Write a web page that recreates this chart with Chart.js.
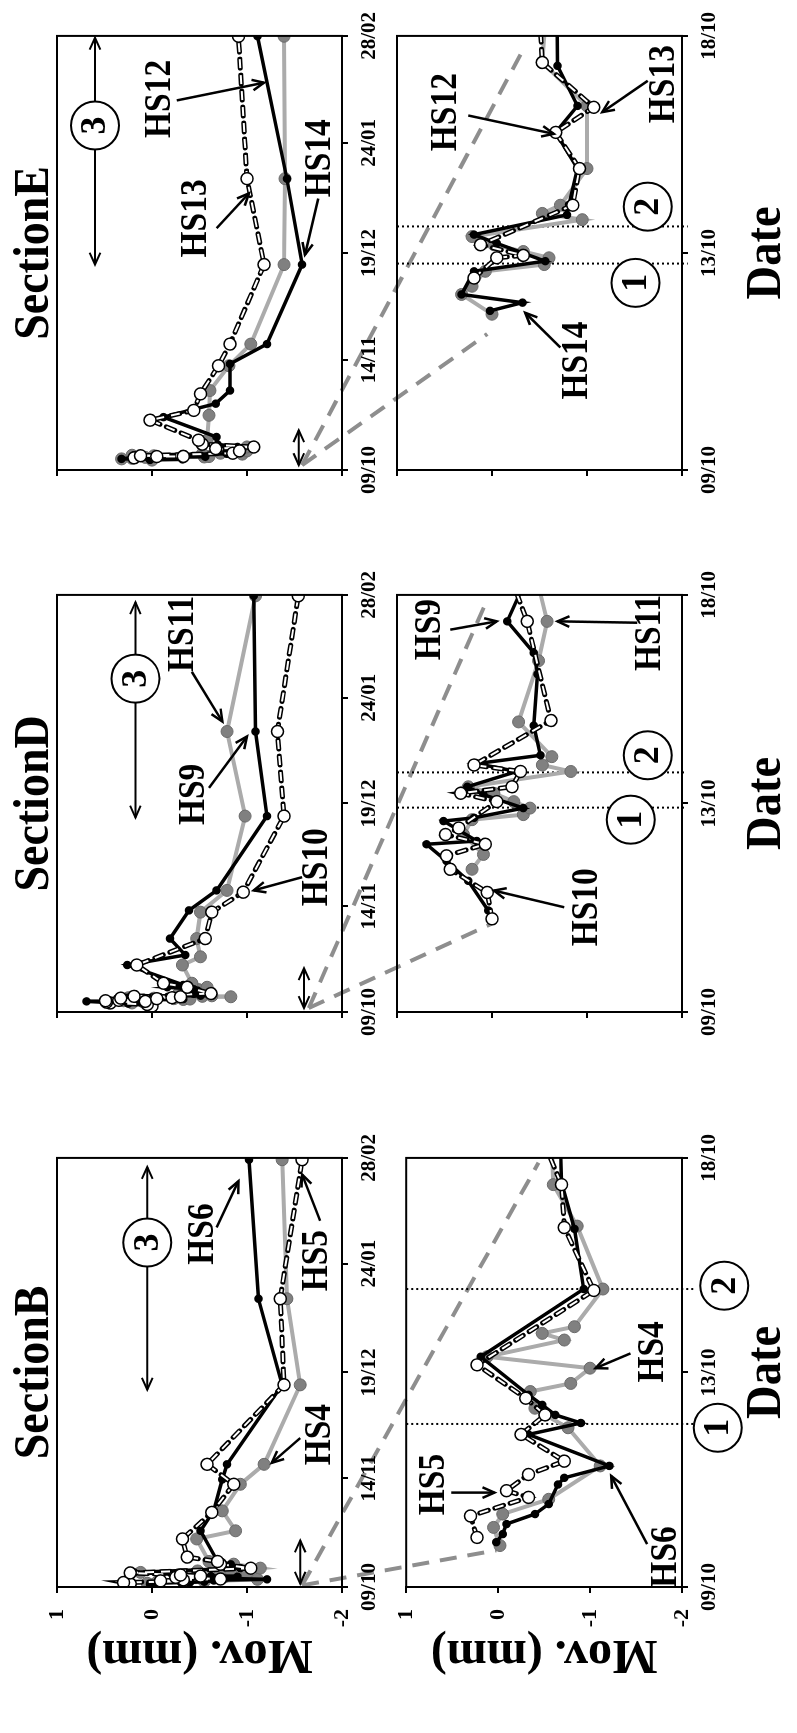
<!DOCTYPE html>
<html>
<head>
<meta charset="utf-8">
<script src="https://cdn.jsdelivr.net/npm/chart.js@4/dist/chart.umd.min.js"></script>
<style>
  html, body { margin: 0; padding: 0; background: #fff; width: 797px; height: 1733px; overflow: hidden; }
  /* the figure is laid out landscape and turned a quarter turn anticlockwise */
  #fig { position: absolute; left: 0; top: 0; width: 1733px; height: 797px;
         transform-origin: 0 0; transform: translate(0px, 1733px) rotate(-90deg); }
  #fig canvas { position: absolute; }
</style>
</head>
<body>
<div id="fig"><canvas id="links" width="1733" height="797" style="left:0;top:0"></canvas></div>
<script>
// ---- axes ----
const LONG_TICKS = [0, 36, 71, 107, 142];
const LONG_LABELS = ['09/10', '14/11', '19/12', '24/01', '28/02'];
const ZOOM_TICKS = [0, 4.5, 9];
const ZOOM_LABELS = ['09/10', '13/10', '18/10'];
const MM_TICKS = [1, 0, -1, -2];

// ---- data: days since 09/10, movement in mm ----
// Section B
const B_day_HS6 = [0.94, 1.11, 1.32, 1.53, 1.74, 2.15, 2.29, 2.54, 3.2, 3.44, 3.61, 3.82, 4.03, 4.83, 6.25, 7.51, 8.48, 18.6, 25.2, 35.6, 40.6, 66.9, 95.4, 141.4];
const B_mm_HS6  = [0.02, -0.05, -0.09, -0.4, -0.55, -0.65, -0.72, -1.21, -0.33, -0.9, -0.62, -0.48, -0.33, 0.19, -0.93, -0.83, -0.69, -0.51, -0.65, -0.74, -0.79, -1.37, -1.12, -1.02];
const B_day_HS4 = [0.87, 1.25, 1.53, 1.84, 2.54, 3.34, 3.61, 3.75, 4.1, 4.27, 4.59, 4.83, 5.18, 5.32, 5.46, 6.25, 7.57, 8.44, 15.9, 18.6, 25.2, 34, 40.6, 66.9, 95.4, 141.4];
const B_mm_HS4  = [-0.02, 0.05, -0.05, -0.55, -1.11, -0.76, -0.51, -0.4, -0.35, -0.79, -1.0, 0.12, -0.72, -0.48, -0.83, -1.14, -0.86, -0.6, -0.47, -0.88, -0.74, -0.93, -1.18, -1.56, -1.42, -1.37];
const B_day_HS5 = [1.04, 1.49, 1.88, 2.02, 2.36, 2.64, 3.2, 3.61, 3.96, 4.66, 6.22, 7.54, 8.44, 9.9, 15.9, 24.7, 34, 40.6, 66.9, 95.4, 141.4];
const B_mm_HS5  = [0.23, 0.3, -0.33, -0.09, -0.33, -0.72, -0.25, -0.51, -0.3, 0.23, -1.04, -0.72, -0.69, -0.37, -0.32, -0.63, -0.86, -0.58, -1.39, -1.35, -1.58];
// Section D
const D_day_HS9 = [2.19, 2.83, 3.26, 3.62, 3.69, 4.12, 4.19, 4.4, 4.69, 4.86, 5.19, 5.36, 5.54, 6.18, 7.29, 7.75, 8.43, 9.2, 16, 19.4, 25, 34.6, 41.4, 66.7, 95.5, 141.7];
const D_mm_HS9  = [0.04, 0.25, 0.48, 0.69, 0.16, 0.51, 0.19, -0.33, 0.09, 0.26, -0.26, 0.16, -0.51, -0.44, -0.48, -0.44, -0.16, -0.33, 0.26, -0.35, -0.19, -0.39, -0.68, -1.21, -1.09, -1.07];
const D_day_HS11 = [3.08, 3.4, 3.83, 4.15, 4.26, 4.4, 4.54, 4.72, 4.86, 5.19, 5.33, 5.51, 6.26, 7.58, 8.43, 9.8, 16, 18.8, 25, 34, 41.4, 66.7, 95.5, 141.7];
const D_mm_HS11  = [0.21, 0.09, 0.3, 0.21, -0.33, -0.4, -0.23, -0.02, 0.25, -0.83, -0.53, -0.63, -0.28, -0.49, -0.58, -0.42, -0.32, -0.51, -0.47, -0.51, -0.79, -0.98, -0.79, -1.09];
const D_day_HS10 = [2.01, 2.58, 3.08, 3.37, 3.62, 3.83, 3.97, 4.54, 4.72, 4.86, 5.19, 5.33, 6.29, 8.43, 9.8, 16, 25, 34, 40.8, 66.7, 95.5, 141.7];
const D_mm_HS10  = [0, 0.05, 0.44, 0.48, 0.07, 0.49, 0.35, -0.05, 0.33, -0.21, -0.3, 0.19, -0.62, -0.37, -0.12, 0.16, -0.56, -0.63, -0.96, -1.39, -1.32, -1.54];
// Section E
const E_day_HS12 = [3.3, 3.47, 3.64, 4.12, 4.33, 4.7, 4.88, 5.29, 5.5, 6.25, 7, 7.55, 8.38, 10.8, 17.3, 21.7, 26, 34.7, 41.2, 67.2, 95.3, 141.9];
const E_mm_HS12  = [0.02, -0.32, 0.32, 0.19, -0.56, -0.05, 0.19, -0.79, -0.81, -0.9, -0.67, -0.9, -0.69, -0.68, -0.12, -0.67, -0.82, -0.82, -1.21, -1.58, -1.42, -1.11];
const E_day_HS14 = [3.23, 3.64, 3.81, 4.12, 4.26, 4.4, 4.53, 4.67, 4.84, 5.19, 5.32, 5.49, 6.25, 7.55, 8.45, 9.75, 17.9, 26, 34.1, 41.2, 67.2, 95.3, 141.9];
const E_mm_HS14  = [0, 0.32, 0.21, 0.07, -0.55, -0.6, -0.33, -0.02, 0.21, -0.95, -0.53, -0.72, -1, -1, -0.53, -0.58, -0.6, -0.61, -0.81, -1.04, -1.39, -1.4, -1.39];
const E_day_HS13 = [3.98, 4.4, 4.45, 4.67, 5.49, 6.25, 7, 7.52, 8.45, 9.75, 16.3, 19.5, 24.9, 34.1, 41.2, 67.2, 95.3, 141.9];
const E_mm_HS13  = [0.19, -0.05, -0.33, 0.12, -0.85, -0.92, -0.67, -1.07, -0.53, -0.49, 0.02, -0.44, -0.51, -0.7, -0.82, -1.18, -1, -0.91];

// phase boundaries in the zoomed panels (days)
const B_PHASES = [3.42, 6.25];
const D_PHASES = [4.41, 5.17];
const E_PHASES = [4.28, 5.05];

// ---- layout (landscape figure, px) ----
const ROWS = { long: { v0: 57, h: 285, padT: 57, padB: 55 }, zoom: { v0: 397, h: 285, padT: 20, padB: 115 } };
const SERIF = '"Liberation Serif", "DejaVu Serif", serif';

const sections = [
  {
    name: 'SectionB', u0: 146, w: 432, yLabels: true,
    black: [B_day_HS6, B_mm_HS6], grey: [B_day_HS4, B_mm_HS4], white: [B_day_HS5, B_mm_HS5],
    long: {
      labels: [['HS6', 116.8, -0.54], ['HS5', 108, -1.74], ['HS4', 50.4, -1.77]],
      arrows: [[119, -0.68, 134.3, -0.91], [121.2, -1.77, 136.5, -1.58], [49.3, -1.56, 41.1, -1.26]],
      phase3: [65.3, 139, 114, 0.05], span: [1.1, 15.4, -1.56]
    },
    zoom: {
      labels: [['HS5', 2.15, 0.7], ['HS6', 0.63, -1.83], ['HS4', 4.93, -1.69]],
      arrows: [[1.98, 0.51, 1.98, 0.04], [0.9, -1.62, 2.33, -1.23], [4.9, -1.44, 4.59, -1.06]],
      circles: [['1', 3.34, -2.39], ['2', 6.32, -2.46]], phases: B_PHASES, phaseEnd: -2.13
    },
    links: [[0.55, -1.58, 0.77, 0.02], [0.55, -1.58, 8.9, -0.44]]
  },
  {
    name: 'SectionD', u0: 721, w: 420, yLabels: false,
    black: [D_day_HS9, D_mm_HS9], grey: [D_day_HS11, D_mm_HS11], white: [D_day_HS10, D_mm_HS10],
    long: {
      labels: [['HS11', 128.7, -0.33], ['HS9', 74.1, -0.44], ['HS10', 49.3, -1.74]],
      arrows: [[115.8, -0.42, 98.9, -0.74], [76.3, -0.6, 93.8, -1.0], [45.9, -1.58, 41.4, -1.07]],
      phase3: [66.2, 139.5, 113.5, 0.175], span: [1.35, 14.9, -1.6]
    },
    zoom: {
      labels: [['HS9', 8.25, 0.65], ['HS11', 8.18, -1.67], ['HS10', 2.26, -1.0]],
      arrows: [[8.25, 0.44, 8.43, -0.05], [8.4, -1.53, 8.43, -0.69], [2.26, -0.76, 2.62, -0.02]],
      circles: [['1', 4.15, -1.46], ['2', 5.54, -1.64]], phases: D_PHASES, phaseEnd: -2.04
    },
    links: [[1.35, -1.65, 1.9, 0.01], [1.35, -1.65, 8.76, 0.08]]
  },
  {
    name: 'SectionE', u0: 1263, w: 437, yLabels: false,
    black: [E_day_HS12, E_mm_HS12], grey: [E_day_HS14, E_mm_HS14], white: [E_day_HS13, E_mm_HS13],
    long: {
      labels: [['HS12', 121.4, -0.09], ['HS13', 82.3, -0.47], ['HS14', 102, -1.77]],
      arrows: [[120.9, -0.26, 126.7, -1.18], [79.1, -0.68, 90.5, -1.02], [88.8, -1.75, 70.4, -1.61]],
      phase3: [67.2, 141.4, 112.7, 0.6], span: [1.6, 13, -1.545]
    },
    zoom: {
      labels: [['HS12', 7.42, 0.48], ['HS13', 8.0, -1.81], ['HS14', 2.27, -0.9]],
      arrows: [[7.35, 0.25, 6.97, -0.65], [8.07, -1.64, 7.42, -1.16], [2.54, -0.72, 3.26, -0.35]],
      circles: [['1', 3.88, -1.51], ['2', 5.46, -1.64]], phases: E_PHASES, phaseEnd: -2.06
    },
    links: [[1.6, -1.58, 2.82, 0.05], [1.6, -1.58, 8.8, -0.35]]
  }
];

// ---- drawing helpers ----
function text(ctx, s, x, y, size, squash) {
  ctx.save();
  ctx.translate(x, y);
  ctx.scale(squash || 1, 1);
  ctx.font = 'bold ' + size + 'px ' + SERIF;
  ctx.fillStyle = '#000';
  ctx.textAlign = 'center';
  ctx.textBaseline = 'middle';
  ctx.fillText(s, 0, 0);
  ctx.restore();
}

function head(ctx, x, y, fx, fy) {
  const a = Math.atan2(y - fy, x - fx), L = 13, s = 0.42;
  ctx.beginPath();
  ctx.moveTo(x - L * Math.cos(a - s), y - L * Math.sin(a - s));
  ctx.lineTo(x, y);
  ctx.lineTo(x - L * Math.cos(a + s), y - L * Math.sin(a + s));
  ctx.stroke();
}

function arrow(ctx, x1, y1, x2, y2, both) {
  ctx.beginPath(); ctx.moveTo(x1, y1); ctx.lineTo(x2, y2); ctx.stroke();
  head(ctx, x2, y2, x1, y1);
  if (both) head(ctx, x1, y1, x2, y2);
}

function circled(ctx, s, x, y) {
  ctx.beginPath(); ctx.arc(x, y, 24, 0, Math.PI * 2);
  ctx.fillStyle = '#fff'; ctx.fill(); ctx.stroke();
  text(ctx, s, x, y + 1, 36, 1);
}

const annot = {
  id: 'annot',
  beforeDatasetsDraw(chart, args, o) {
    const { ctx, scales: { x, y } } = chart;
    if (!o.phases) return;
    ctx.save();
    ctx.strokeStyle = '#000'; ctx.lineWidth = 2; ctx.setLineDash([2, 3]);
    o.phases.forEach(d => {
      ctx.beginPath();
      ctx.moveTo(x.getPixelForValue(d), y.getPixelForValue(1));
      ctx.lineTo(x.getPixelForValue(d), y.getPixelForValue(o.phaseEnd));
      ctx.stroke();
    });
    ctx.restore();
  },
  afterDraw(chart, args, o) {
    const { ctx, chartArea: a, scales: { x, y } } = chart;
    const px = v => x.getPixelForValue(v), py = v => y.getPixelForValue(v);
    ctx.save();
    ctx.strokeStyle = '#000'; ctx.lineWidth = 2;
    ctx.strokeRect(a.left, a.top, a.width, a.height);
    ctx.lineWidth = 2.5;
    (o.arrows || []).forEach(r => arrow(ctx, px(r[0]), py(r[1]), px(r[2]), py(r[3]), false));
    (o.labels || []).forEach(l => text(ctx, l[0], px(l[1]), py(l[2]), 38, 0.88));
    if (o.phase3) {
      const [x1, x2, xc, yv] = o.phase3, cy = py(yv), cx = px(xc);
      ctx.lineWidth = 2;
      arrow(ctx, cx - 24, cy, px(x1), cy, false);
      arrow(ctx, cx + 24, cy, px(x2), cy, false);
      circled(ctx, '3', cx, cy);
    }
    if (o.span) {
      ctx.lineWidth = 2;
      arrow(ctx, px(o.span[0]), py(o.span[2]), px(o.span[1]), py(o.span[2]), true);
    }
    ctx.lineWidth = 2;
    (o.circles || []).forEach(c => circled(ctx, c[0], px(c[1]), py(c[2])));
    const mid = (a.left + a.right) / 2;
    if (o.title) text(ctx, o.title, mid, a.top - 22, 50, 0.92);
    if (o.xTitle) text(ctx, o.xTitle, mid, a.bottom + 85, 50, 0.93);
    if (o.yTitle) {
      ctx.save();
      ctx.translate(a.left - 66, (a.top + a.bottom) / 2);
      ctx.rotate(-Math.PI / 2);
      text(ctx, o.yTitle, 0, 0, 48, 1);
      ctx.restore();
    }
    ctx.restore();
  }
};

function points(days, mm) { return days.map((d, i) => ({ x: d, y: mm[i] })); }

const fig = document.getElementById('fig');
const charts = [];

function makeChart(sec, rowKey) {
  const row = ROWS[rowKey];
  const padL = sec.yLabels ? sec.u0 : 60, padR = 30;
  const cw = padL + sec.w + padR, ch = row.padT + row.h + row.padB;
  const canvas = document.createElement('canvas');
  canvas.width = cw; canvas.height = ch;
  canvas.style.left = (sec.u0 - padL) + 'px';
  canvas.style.top = (row.v0 - row.padT) + 'px';
  canvas.style.width = cw + 'px'; canvas.style.height = ch + 'px';
  fig.appendChild(canvas);

  const long = rowKey === 'long';
  const ticks = long ? LONG_TICKS : ZOOM_TICKS;
  const tickLabels = long ? LONG_LABELS : ZOOM_LABELS;
  const extra = long ? { title: sec.name } : { xTitle: 'Date' };
  if (sec.yLabels) extra.yTitle = 'Mov. (mm)';

  const chart = new Chart(canvas, {
    type: 'line',
    data: {
      datasets: [
        { data: points(...sec.grey), borderColor: '#ababab', borderWidth: 4, pointRadius: 6,
          pointBackgroundColor: '#808080', pointBorderColor: '#6a6a6a', pointBorderWidth: 1, order: 4 },
        { data: points(...sec.black), borderColor: '#000', borderWidth: 3.5, pointRadius: 2.5,
          pointBackgroundColor: '#000', pointBorderColor: '#000', order: 3 },
        { data: points(...sec.white), borderColor: '#000', borderWidth: 5, borderDash: [9, 7],
          borderCapStyle: 'round', pointRadius: 0, order: 2 },
        { data: points(...sec.white), borderColor: '#fff', borderWidth: 2, borderDash: [9, 7],
          pointRadius: 6, pointBackgroundColor: '#fff', pointBorderColor: '#000', pointBorderWidth: 1.5, order: 1 }
      ]
    },
    options: {
      responsive: false,
      animation: false,
      devicePixelRatio: 1,
      events: [],
      layout: { padding: { top: row.padT, left: 0, right: 0, bottom: 0 } },
      plugins: {
        legend: { display: false },
        tooltip: { enabled: false },
        annot: Object.assign({}, sec[rowKey], extra)
      },
      scales: {
        x: {
          type: 'linear', position: 'bottom', min: 0, max: ticks[ticks.length - 1],
          afterBuildTicks: s => { s.ticks = ticks.map(v => ({ value: v })); },
          afterFit: s => { s.height = row.padB; },
          ticks: { autoSkip: false, maxRotation: 0, minRotation: 0, padding: 9, color: '#000',
                   font: { family: SERIF, weight: 'bold', size: 21 },
                   callback: (v, i) => tickLabels[i] },
          grid: { drawOnChartArea: false, tickLength: 6, color: '#000', lineWidth: 2 },
          border: { color: '#000', width: 2 }
        },
        y: {
          type: 'linear', position: 'left', min: -2, max: 1,
          afterBuildTicks: s => { s.ticks = MM_TICKS.map(v => ({ value: v })); },
          afterFit: s => { s.width = padL; },
          ticks: { display: sec.yLabels, padding: 16, color: '#000',
                   font: { family: SERIF, weight: 'bold', size: 22 } },
          grid: { drawOnChartArea: false, tickLength: 6, color: '#000', lineWidth: 2 },
          border: { color: '#000', width: 2 }
        },
        yr: {
          type: 'linear', position: 'right',
          afterFit: s => { s.width = padR; },
          ticks: { display: false }, grid: { display: false }, border: { display: false }
        }
      }
    },
    plugins: [annot]
  });
  chart.$left = sec.u0 - padL;
  chart.$top = row.v0 - row.padT;
  return chart;
}

sections.forEach(sec => {
  const top = makeChart(sec, 'long');
  const bottom = makeChart(sec, 'zoom');
  charts.push({ sec, top, bottom });
});

// dashed grey lines linking each long panel to its zoomed panel
const lctx = document.getElementById('links').getContext('2d');
lctx.strokeStyle = '#8e8e8e';
lctx.lineWidth = 4;
lctx.setLineDash([17, 11]);
charts.forEach(({ sec, top, bottom }) => {
  sec.links.forEach(l => {
    lctx.beginPath();
    lctx.moveTo(top.$left + top.scales.x.getPixelForValue(l[0]), top.$top + top.scales.y.getPixelForValue(l[1]));
    lctx.lineTo(bottom.$left + bottom.scales.x.getPixelForValue(l[2]), bottom.$top + bottom.scales.y.getPixelForValue(l[3]));
    lctx.stroke();
  });
});
</script>
</body>
</html>
